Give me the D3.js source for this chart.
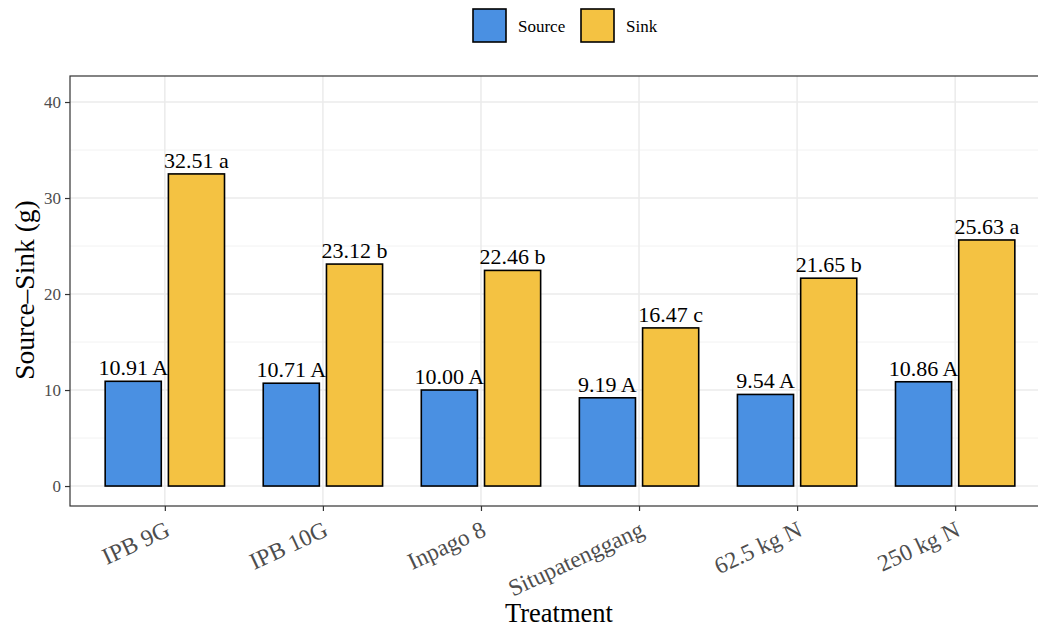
<!DOCTYPE html>
<html>
<head>
  <style>
    body { margin: 0; background: #fff; }
    svg text { font-family: "Liberation Serif", "Times New Roman", serif; }
  </style>
</head>
<body>
  <div id="chart"></div>

  <script src="https://d3js.org/d3.v7.min.js"></script>
  <script>
    // Data
    const treatments = ["IPB 9G", "IPB 10G", "Inpago 8", "Situpatenggang", "62.5 kg N", "250 kg N"];
    const sourceVals = [10.91, 10.71, 10.00, 9.19, 9.54, 10.86];
    const sinkVals = [32.51, 23.12, 22.46, 16.47, 21.65, 25.63];
    const sourceLetters = ["A", "A", "A", "A", "A", "A"];
    const sinkLetters = ["a", "b", "b", "c", "b", "a"];
    const series = ["Source", "Sink"];
    const colors = ["#4a90e2", "#f4c242"];
    const yTicks = [0, 10, 20, 30, 40];
    const yMinor = [5, 15, 25, 35];

    const W = 1038, H = 628;
    const panel = { left: 70, right: 1050, top: 76, bottom: 506 };

    const svg = d3.select("#chart")
      .append("svg")
      .attr("width", W)
      .attr("height", H);

    const x = d3.scalePoint()
      .domain(treatments)
      .range([panel.left, panel.right])
      .padding(0.6);

    const y = d3.scaleLinear()
      .domain([-2.08, 42.71])
      .range([panel.bottom, panel.top]);

    const step = x.step();
    const barW = step * 0.355;
    const dodge = step * 0.2;

    // grid
    const grid = svg.append("g");
    grid.selectAll(".minor")
      .data(yMinor)
      .enter().append("line")
      .attr("x1", panel.left).attr("x2", panel.right)
      .attr("y1", d => y(d)).attr("y2", d => y(d))
      .attr("stroke", "#f2f2f2").attr("stroke-width", 1);
    grid.selectAll(".major")
      .data(yTicks)
      .enter().append("line")
      .attr("x1", panel.left).attr("x2", panel.right)
      .attr("y1", d => y(d)).attr("y2", d => y(d))
      .attr("stroke", "#ebebeb").attr("stroke-width", 1.5);
    grid.selectAll(".vmajor")
      .data(treatments)
      .enter().append("line")
      .attr("x1", d => x(d)).attr("x2", d => x(d))
      .attr("y1", panel.top).attr("y2", panel.bottom)
      .attr("stroke", "#ebebeb").attr("stroke-width", 1.5);

    // bars
    const rows = treatments.map((t, i) => [
      { t, s: 0, v: sourceVals[i], lab: sourceVals[i].toFixed(2) + " " + sourceLetters[i] },
      { t, s: 1, v: sinkVals[i], lab: sinkVals[i].toFixed(2) + " " + sinkLetters[i] }
    ]).flat();

    svg.append("g").selectAll("rect")
      .data(rows)
      .enter().append("rect")
      .attr("x", d => x(d.t) + (d.s === 0 ? -dodge : dodge) - barW / 2)
      .attr("y", d => y(d.v))
      .attr("width", barW)
      .attr("height", d => y(0) - y(d.v))
      .attr("fill", d => colors[d.s])
      .attr("stroke", "#000")
      .attr("stroke-width", 1.6);

    svg.append("g").selectAll("text")
      .data(rows)
      .enter().append("text")
      .attr("x", d => x(d.t) + (d.s === 0 ? -dodge : dodge))
      .attr("y", d => y(d.v) - 6)
      .attr("text-anchor", "middle")
      .attr("font-size", 22)
      .attr("fill", "#000")
      .text(d => d.lab);

    // panel border
    svg.append("rect")
      .attr("x", panel.left).attr("y", panel.top)
      .attr("width", panel.right - panel.left)
      .attr("height", panel.bottom - panel.top)
      .attr("fill", "none")
      .attr("stroke", "#333")
      .attr("stroke-width", 1.2);

    // y axis
    const yAxis = svg.append("g")
      .attr("transform", `translate(${panel.left},0)`)
      .call(d3.axisLeft(y).tickValues(yTicks).tickSize(5).tickPadding(4));
    yAxis.select(".domain").remove();
    yAxis.selectAll("line").attr("stroke", "#333").attr("stroke-width", 1.2);
    yAxis.selectAll("text")
      .attr("fill", "#4d4d4d")
      .attr("font-size", 17)
      .attr("font-family", "Liberation Serif, serif");

    // x axis
    const xAxis = svg.append("g")
      .attr("transform", `translate(0,${panel.bottom})`)
      .call(d3.axisBottom(x).tickSize(5).tickPadding(0));
    xAxis.select(".domain").remove();
    xAxis.selectAll("line").attr("stroke", "#333").attr("stroke-width", 1.2);
    xAxis.selectAll("text")
      .attr("fill", "#4d4d4d")
      .attr("font-size", 23.5)
      .attr("font-family", "Liberation Serif, serif")
      .attr("text-anchor", "end")
      .attr("dy", null)
      .attr("y", null)
      .attr("transform", "translate(6,29) rotate(-25)");

    // axis titles
    svg.append("text")
      .attr("x", (panel.left + panel.right) / 2 - 1)
      .attr("y", 622)
      .attr("text-anchor", "middle")
      .attr("font-size", 26.5)
      .text("Treatment");

    svg.append("text")
      .attr("transform", `translate(34,${(panel.top + panel.bottom) / 2 - 1}) rotate(-90)`)
      .attr("text-anchor", "middle")
      .attr("font-size", 27.5)
      .text("Source–Sink (g)");

    // legend
    const legendX = [473, 581];
    const leg = svg.append("g");
    series.forEach((s, i) => {
      leg.append("rect")
        .attr("x", legendX[i]).attr("y", 9)
        .attr("width", 33).attr("height", 33)
        .attr("fill", colors[i])
        .attr("stroke", "#000")
        .attr("stroke-width", 1.6);
      leg.append("text")
        .attr("x", legendX[i] + 45)
        .attr("y", 32)
        .attr("font-size", 17)
        .text(s);
    });
  </script>
</body>
</html>
